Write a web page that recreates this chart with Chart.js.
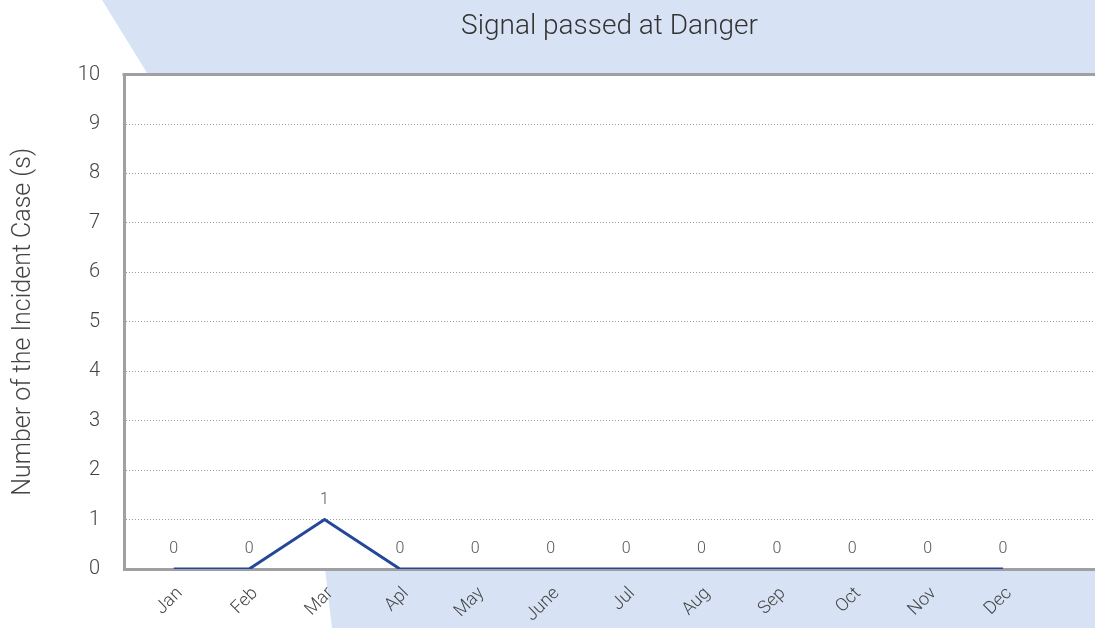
<!DOCTYPE html>
<html>
<head>
<meta charset="utf-8">
<script src="https://cdn.jsdelivr.net/npm/chart.js@4"></script>
<style>
  body { margin: 0; background: #fff; }
  #grafik { display: block; }
</style>
</head>
<body>
<canvas id="grafik" width="1095" height="628"></canvas>
<script>
const bulan = ["Jan", "Feb", "Mar", "Apl", "May", "June", "Jul", "Aug", "Sep", "Oct", "Nov", "Dec"];
const jumlahKasus = [0, 0, 1, 0, 0, 0, 0, 0, 0, 0, 0, 0];
const tickY = [0, 1, 2, 3, 4, 5, 6, 7, 8, 9, 10];

const warnaBiru = "#d7e3f4";
const warnaAbu = "#a0a0a4";
const hurufTipis = "Roboto, 'Liberation Sans', sans-serif";

// latar biru miring di atas dan bawah area grafik
const latarPlugin = {
  id: "latar",
  beforeDraw(chart) {
    const ctx = chart.ctx;
    const area = chart.chartArea;
    const w = chart.width, h = chart.height;
    ctx.save();
    ctx.fillStyle = warnaBiru;
    ctx.beginPath();
    ctx.moveTo(area.left - 22, 0);
    ctx.lineTo(w, 0);
    ctx.lineTo(w, area.top);
    ctx.lineTo(area.left + 24, area.top);
    ctx.closePath();
    ctx.fill();
    ctx.beginPath();
    ctx.moveTo(area.left + 201, area.bottom);
    ctx.lineTo(w, area.bottom);
    ctx.lineTo(w, h);
    ctx.lineTo(area.left + 208, h);
    ctx.closePath();
    ctx.fill();
    ctx.restore();
  },
  afterDraw(chart) {
    const ctx = chart.ctx;
    const area = chart.chartArea;
    ctx.save();
    ctx.strokeStyle = warnaAbu;
    ctx.lineWidth = 3;
    ctx.beginPath();
    ctx.moveTo(area.left - 1.5, area.top);
    ctx.lineTo(chart.width, area.top);
    ctx.stroke();
    ctx.restore();
  }
};

// angka di atas tiap titik
const labelPlugin = {
  id: "labelNilai",
  afterDatasetsDraw(chart) {
    const ctx = chart.ctx;
    const meta = chart.getDatasetMeta(0);
    ctx.save();
    ctx.font = "300 16px " + hurufTipis;
    ctx.fillStyle = "#555";
    ctx.textAlign = "center";
    ctx.textBaseline = "middle";
    meta.data.forEach((p, i) => {
      ctx.fillText(jumlahKasus[i], p.x, p.y - 20);
    });
    ctx.restore();
  }
};

const ctx = document.getElementById("grafik").getContext("2d");
new Chart(ctx, {
  type: "line",
  data: {
    datasets: [{
      label: "Signal passed at Danger",
      data: jumlahKasus.map((v, i) => ({ x: i, y: v })),
      borderColor: "#24479c",
      borderWidth: 3,
      pointRadius: 0,
      tension: 0,
      fill: false
    }]
  },
  options: {
    responsive: false,
    animation: false,
    layout: { padding: 0 },
    plugins: {
      legend: { display: false },
      tooltip: { enabled: false },
      title: {
        display: true,
        fullSize: false,
        text: "Signal passed at Danger",
        color: "#333",
        font: { family: hurufTipis, size: 28, weight: "300" },
        padding: { top: 10, bottom: 31 }
      }
    },
    scales: {
      x: {
        type: "linear",
        min: -0.66,
        max: 12.22,
        afterBuildTicks(scale) {
          scale.ticks = bulan.map((b, i) => ({ value: i }));
        },
        afterFit(scale) {
          scale.height = 59;
        },
        grid: { display: false },
        border: { color: warnaAbu, width: 3 },
        ticks: {
          color: "#444",
          font: { family: hurufTipis, size: 18, weight: "300" },
          minRotation: 45,
          maxRotation: 45,
          padding: 6,
          labelOffset: 6,
          callback: (v) => bulan[v] ?? ""
        }
      },
      y: {
        min: 0,
        max: 10,
        afterBuildTicks(scale) {
          scale.ticks = tickY.map(v => ({ value: v }));
        },
        afterFit(scale) {
          scale.width = 124;
        },
        grid: {
          drawTicks: false,
          color: (c) => (c.tick && (c.tick.value === 0 || c.tick.value === 10)) ? "rgba(0,0,0,0)" : "#9a9a9a",
          lineWidth: 1
        },
        border: { color: warnaAbu, width: 3, dash: [1, 2] },
        ticks: {
          color: "#444",
          font: { family: hurufTipis, size: 20, weight: "300" },
          padding: 24
        },
        title: {
          display: true,
          text: "Number of the Incident Case (s)",
          color: "#444",
          font: { family: hurufTipis, size: 25, weight: "300" },
          padding: { top: 9, bottom: 0 }
        }
      }
    }
  },
  plugins: [latarPlugin, labelPlugin]
});
</script>
</body>
</html>
